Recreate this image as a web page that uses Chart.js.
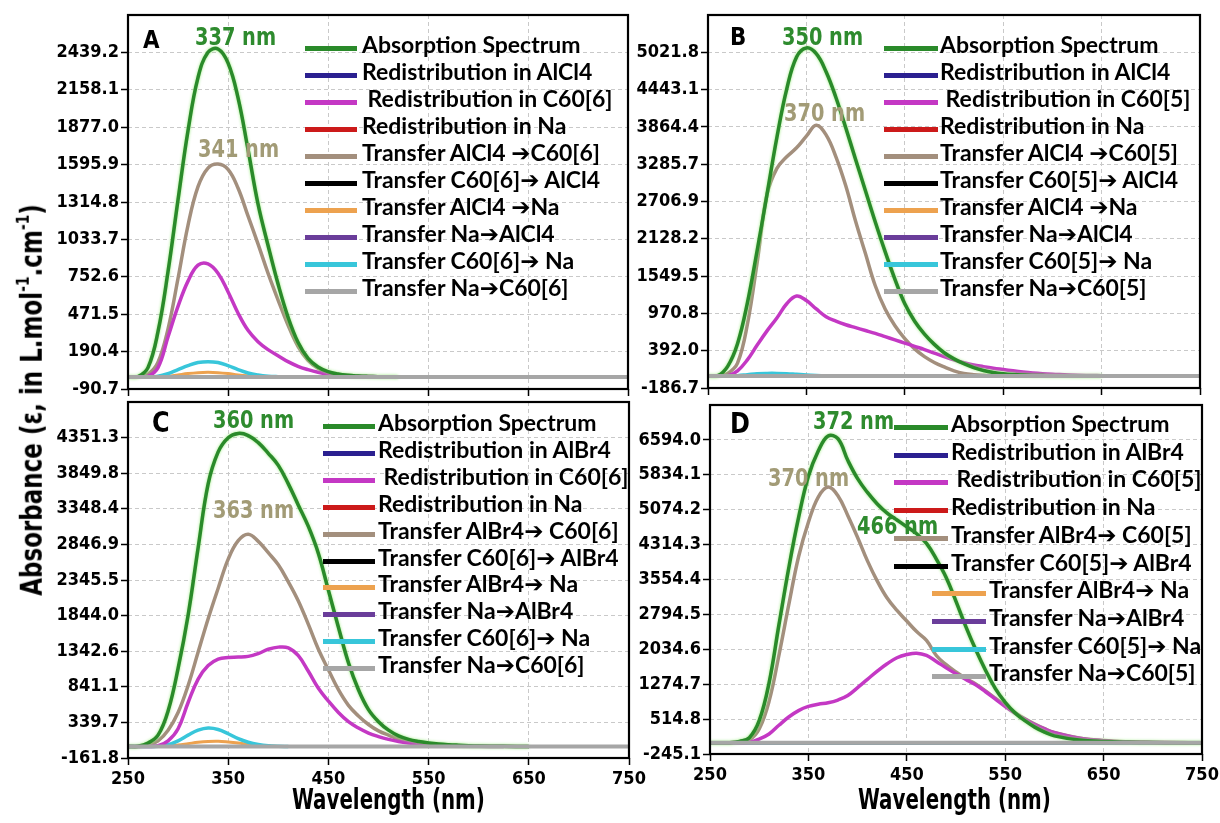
<!DOCTYPE html>
<html><head><meta charset="utf-8">
<script src="https://cdn.jsdelivr.net/npm/chart.js@4.4.1/dist/chart.umd.min.js"></script>
<style>
html,body{margin:0;padding:0;background:#fff;}
body{width:1220px;height:823px;position:relative;overflow:hidden;}
.cv{position:absolute;}
.t{position:absolute;white-space:pre;line-height:1;font-family:'DejaVu Sans Condensed','Liberation Sans Narrow',sans-serif;font-weight:bold;color:#000;transform-origin:0 0;}
.t sup{font-size:60%;vertical-align:0.75em;line-height:0;}
.lg{position:absolute;height:27px;}
.lg .ln{position:absolute;left:0;top:15px;height:5px;}
.lg .tx{position:absolute;top:0;white-space:pre;font-family:Lato,'DejaVu Sans',sans-serif;font-weight:bold;font-size:23px;line-height:27px;color:#000;}
</style></head><body>
<script>
// ---------- data ----------
const wl = [250,260,270,280,290,300,310,320,330,340,350,360,370,380,390,400,410,420,430,440,450,460,470,480,490,500,510,520,530,540,550,560,570,580,590,600,625,650,675,700,725,750];
const wlEnds = [250, 750];
const flat = [0, 0];
const xTicks = [250, 350, 450, 550, 650, 750];

const yTicksA = [-90.7, 190.4, 471.5, 752.6, 1033.7, 1314.8, 1595.9, 1877.0, 2158.1, 2439.2];
const yTicksB = [-186.7, 392.0, 970.8, 1549.5, 2128.2, 2706.9, 3285.7, 3864.4, 4443.1, 5021.8];
const yTicksC = [-161.8, 339.7, 841.1, 1342.6, 1844.0, 2345.5, 2846.9, 3348.4, 3849.8, 4351.3];
const yTicksD = [-245.1, 514.8, 1274.7, 2034.6, 2794.5, 3554.4, 4314.3, 5074.2, 5834.1, 6594.0];
const yMaxA = 2720.3, yMaxB = 5600.5, yMaxC = 4852.8, yMaxD = 7353.9;

const labelsA = ["Absorption Spectrum","Redistribution in AlCl4"," Redistribution in C60[6]","Redistribution in Na","Transfer AlCl4 \u2794C60[6]","Transfer C60[6]\u2794 AlCl4","Transfer AlCl4 \u2794Na","Transfer Na\u2794AlCl4","Transfer C60[6]\u2794 Na","Transfer Na\u2794C60[6]"];
const labelsB = ["Absorption Spectrum","Redistribution in AlCl4"," Redistribution in C60[5]","Redistribution in Na","Transfer AlCl4 \u2794C60[5]","Transfer C60[5]\u2794 AlCl4","Transfer AlCl4 \u2794Na","Transfer Na\u2794AlCl4","Transfer C60[5]\u2794 Na","Transfer Na\u2794C60[5]"];
const labelsC = ["Absorption Spectrum","Redistribution in AlBr4"," Redistribution in C60[6]","Redistribution in Na","Transfer AlBr4\u2794 C60[6]","Transfer C60[6]\u2794 AlBr4","Transfer AlBr4\u2794 Na","Transfer Na\u2794AlBr4","Transfer C60[6]\u2794 Na","Transfer Na\u2794C60[6]"];
const labelsD = ["Absorption Spectrum","Redistribution in AlBr4"," Redistribution in C60[5]","Redistribution in Na","Transfer AlBr4\u2794 C60[5]","Transfer C60[5]\u2794 AlBr4","Transfer AlBr4\u2794 Na","Transfer Na\u2794AlBr4","Transfer C60[5]\u2794 Na","Transfer Na\u2794C60[5]"];

// Panel A
const greenA   = [0,3,70,340,790,1330,1850,2250,2440,2465,2360,2100,1710,1300,990,700,450,260,140,75,40,22,12,7,4,2,1,0];
const magentaA = [0,0,5,70,300,530,720,840,850,780,640,480,350,265,205,160,115,80,55,35,22,14,8,5,3,2,1,0];
const brownA   = [0,0,20,110,360,740,1140,1430,1570,1600,1560,1420,1210,1000,780,580,390,230,125,65,34,18,10,6,3,2,1,0];
const cyanA    = [0,0,0,5,25,55,85,108,115,108,85,55,30,15,6,2,0];
const orangeA  = [0,0,0,0,5,15,25,32,35,32,25,15,8,4,1,0];
// Panel B
const greenB   = [0,5,150,500,1130,1950,2820,3700,4450,4950,5090,5000,4720,4320,3850,3360,2875,2390,1930,1500,1120,850,650,490,360,265,190,130,85,55,35,22,14,9,6,3,1,0];
const magentaB = [0,0,0,80,250,480,700,900,1120,1240,1170,1040,920,850,795,750,705,660,610,560,510,460,410,355,300,250,205,170,145,120,100,80,62,47,36,28,12,5,2,0];
const brownB   = [0,0,40,200,800,1770,2820,3220,3400,3540,3720,3890,3740,3400,2950,2400,1900,1400,1040,780,580,420,300,210,140,80,40,20,10,5,2,0];
const cyanB    = [0,0,0,5,20,35,40,40,35,25,15,8,3,0];
// Panel C
const greenC   = [0,5,50,160,500,1100,1850,2800,3700,4150,4350,4410,4380,4280,4130,3960,3700,3400,3100,2720,2200,1680,1180,800,520,350,230,150,100,70,50,35,25,18,12,8,3,0];
const magentaC = [0,0,0,10,80,250,620,950,1140,1230,1255,1260,1270,1310,1370,1400,1390,1280,1060,820,640,480,350,260,190,140,100,70,48,32,22,15,10,6,4,2,0];
const brownC   = [0,0,20,80,230,480,860,1330,1800,2230,2640,2900,2990,2890,2730,2560,2320,2050,1720,1370,1080,800,580,430,310,220,160,110,80,55,35,25,17,12,8,5,2,0];
const cyanC    = [0,0,0,5,25,80,160,230,260,240,180,110,60,28,10,3,0];
const orangeC  = [0,0,0,0,5,20,40,60,72,75,65,50,30,15,6,0];
// Panel D
const greenD   = [0,0,0,30,110,480,1300,2560,3800,4900,5800,6350,6680,6620,6150,5750,5450,5200,5000,4850,4700,4550,4340,4000,3600,3080,2530,2030,1580,1180,880,650,480,340,230,150,60,25,10,3,1,0];
const magentaD = [0,0,0,0,10,80,190,380,560,700,790,840,870,930,1030,1200,1380,1560,1720,1850,1920,1950,1900,1770,1630,1500,1380,1260,1110,950,790,640,510,395,300,220,100,45,18,7,2,0];
const brownD   = [0,0,0,20,60,300,900,1900,3000,4050,4800,5350,5570,5380,4950,4470,3960,3520,3150,2880,2650,2420,2230,1900,1700,1540,1400,1280,1130,970,805,655,520,405,305,225,105,48,20,8,3,0];

// peak annotations: text, wavelength, value (left / baseline anchor)
const annA = [["337 nm", 317, 2480, "g"], ["341 nm", 320, 1638, "t"]];
const annB = [["350 nm", 325, 5104, "g"], ["370 nm", 327, 3925, "t"]];
const annC = [["360 nm", 335, 4458, "g"], ["363 nm", 335, 3190, "t"]];
const annD = [["372 nm", 355, 6788, "g"], ["370 nm", 309, 5547, "t"], ["466 nm", 399, 4501, "g"]];

// ---------- styles ----------
const colors = ['#2a8a2a','#2b2090','#c438c4','#cc1a1a','#a38f7d','#000000','#eda24f','#6a3d9a','#38c6da','#a6a6a6'];
const widths = [3.5,3,3.5,3,3.5,3,3,3,3.5,4];
const drawOrder = [1,7,2,8,3,9,5,10,4,-1];
const annColor = {g:'#2e8b2e', t:'#a29b76'};
const tickFont = {family:"'DejaVu Sans Condensed','Liberation Sans Narrow',sans-serif", weight:'bold', size:18};

const panels = [
  {letter:'A', lx:143, lb:50, ls:25, left:28, top:13, w:602, h:388, hx:12, pr:2, xl:false, ymin:yTicksA[0], ymax:yMaxA, yt:yTicksA, labels:labelsA,
   series:[greenA,flat,magentaA,flat,brownA,flat,orangeA,flat,cyanA,flat], ann:annA,
   leg:{x:305, lw:52, tx:57, y0:31, dy:27}},
  {letter:'B', lx:730, lb:47, ls:25, left:608, top:13, w:594, h:387, hx:12, pr:2, xl:false, ymin:yTicksB[0], ymax:yMaxB, yt:yTicksB, labels:labelsB,
   series:[greenB,flat,magentaB,flat,brownB,flat,flat,flat,cyanB,flat], ann:annB,
   leg:{x:884, lw:54, tx:56, y0:31, dy:27}},
  {letter:'C', lx:152, lb:435, ls:28, left:28, top:400, w:623, h:398, hx:40, pr:22, xl:true, ymin:yTicksC[0], ymax:yMaxC, yt:yTicksC, labels:labelsC,
   series:[greenC,flat,magentaC,flat,brownC,flat,orangeC,flat,cyanC,flat], ann:annC,
   leg:{x:323, lw:52, tx:55, y0:409, dy:26.9}},
  {letter:'D', lx:730, lb:436, ls:28, left:610, top:403, w:612, h:391, hx:40, pr:20, xl:true, ymin:yTicksD[0], ymax:yMaxD, yt:yTicksD, labels:labelsD,
   series:[greenD,flat,magentaD,flat,brownD,flat,flat,flat,flat,flat], ann:annD,
   leg:{x:894, lw:54, tx:57, y0:410, dy:27.7, indentFrom:6, ix:932}}
];

function pts(xs, ys){ return ys.map((y,i)=>({x:xs[i], y:y})); }

function addText(html, x, baseline, size, color, sx){
  const d = document.createElement('div');
  d.className = 't';
  d.innerHTML = html;
  d.style.fontSize = size + 'px';
  d.style.left = x + 'px';
  d.style.top = (baseline - 0.93*size) + 'px';
  d.style.color = color || '#000';
  d.style.zIndex = 5;
  if (sx) d.style.transform = 'scaleX(' + sx + ')';
  document.body.appendChild(d);
  return d;
}

const framePlugin = {id:'frame', afterDraw(c){
  const a = c.chartArea, x = c.ctx;
  x.save(); x.strokeStyle = '#000'; x.lineWidth = 2.2;
  x.strokeRect(a.left, a.top, a.right - a.left, a.bottom - a.top);
  x.restore();
}};
const glowPlugin = {id:'glow',
  beforeDatasetDraw(c, args){ if(args.index === 0){ c.ctx.save(); c.ctx.shadowColor = 'rgba(150,235,120,0.95)'; c.ctx.shadowBlur = 3; } },
  afterDatasetDraw(c, args){ if(args.index === 0){ c.ctx.restore(); } }
};

panels.forEach(p => {
  const wrap = document.createElement('div');
  wrap.className = 'cv';
  wrap.style.left = p.left + 'px'; wrap.style.top = p.top + 'px';
  wrap.style.width = p.w + 'px'; wrap.style.height = p.h + 'px';
  const cv = document.createElement('canvas');
  cv.width = p.w; cv.height = p.h;
  cv.style.width = p.w + 'px'; cv.style.height = p.h + 'px';
  wrap.appendChild(cv); document.body.appendChild(wrap);

  const datasets = p.series.map((ys, i) => ({
    label: p.labels[i],
    data: pts(ys === flat ? wlEnds : wl, ys),
    borderColor: colors[i], backgroundColor: colors[i],
    borderWidth: widths[i], pointRadius: 0, tension: 0.4, fill: false,
    order: drawOrder[i]
  }));

  const gridOpts = {color:'#c9c9c9', lineWidth:1, tickColor:'#000', tickLength:7, tickWidth:1.5, drawTicks:true};
  const chart = new Chart(cv, {
    type: 'line',
    data: {datasets},
    options: {
      responsive:false, animation:false, devicePixelRatio:1,
      layout:{padding:{top:2, right:p.pr, left:0, bottom:0}},
      plugins:{legend:{display:false}, tooltip:{enabled:false}},
      scales:{
        x:{type:'linear', min:250, max:750,
           afterBuildTicks:s => { s.ticks = xTicks.map(v => ({value:v})); },
           afterFit:s => { s.height = p.hx; s.paddingLeft = 0; s.paddingRight = 0; },
           ticks:{display:p.xl, color:'#000', font:tickFont, padding:4, maxRotation:0, autoSkip:false},
           grid:gridOpts, border:{display:false, dash:[4,3]}},
        y:{type:'linear', min:p.ymin, max:p.ymax,
           afterBuildTicks:s => { s.ticks = p.yt.map(v => ({value:v})); },
           afterFit:s => { s.width = 100; s.paddingTop = 0; s.paddingBottom = 0; },
           ticks:{color:'#000', font:tickFont, padding:2, autoSkip:false, callback:v => Number(v).toFixed(1)},
           grid:gridOpts, border:{display:false, dash:[4,3]}}
      }
    },
    plugins:[framePlugin, glowPlugin]
  });

  // panel letter
  addText(p.letter, p.lx, p.lb, p.ls, '#000', 0.95);
  // peak annotations anchored on data coordinates
  p.ann.forEach(a => {
    const px = chart.scales.x.getPixelForValue(a[1]) + p.left;
    const py = chart.scales.y.getPixelForValue(a[2]) + p.top;
    addText(a[0], px, py, 25, annColor[a[3]], 0.86);
  });
  // legend built from the datasets
  datasets.forEach((ds, i) => {
    const g = p.leg;
    const lx = (g.indentFrom !== undefined && i >= g.indentFrom) ? g.ix : g.x;
    const row = document.createElement('div');
    row.className = 'lg';
    row.style.left = lx + 'px';
    row.style.top = (g.y0 + i*g.dy) + 'px';
    row.style.zIndex = 6;
    const ln = document.createElement('span');
    ln.className = 'ln'; ln.style.width = g.lw + 'px'; ln.style.background = ds.borderColor;
    const tx = document.createElement('span');
    tx.className = 'tx'; tx.style.left = g.tx + 'px'; tx.textContent = ds.label;
    row.appendChild(ln); row.appendChild(tx);
    document.body.appendChild(row);
  });
});

// axis titles
const yt = document.createElement('div');
yt.className = 't';
yt.innerHTML = 'Absorbance (\u03b5, in L.mol<sup>-1</sup>.cm<sup>-1</sup>)';
yt.style.fontSize = '30px';
document.body.appendChild(yt);
yt.style.left = (32 - yt.offsetWidth/2) + 'px';
yt.style.top = (400 - yt.offsetHeight/2) + 'px';
yt.style.transformOrigin = '50% 50%';
yt.style.transform = 'rotate(-90deg) scaleX(' + (392/yt.offsetWidth).toFixed(3) + ')';

const x1 = addText('Wavelength (nm)', 0, 812, 29, '#000', 0.76);
x1.style.left = (389 - 0.76*x1.offsetWidth/2) + 'px';
const x2 = addText('Wavelength (nm)', 0, 812, 29, '#000', 0.76);
x2.style.left = (955 - 0.76*x2.offsetWidth/2) + 'px';
</script>
</body></html>
